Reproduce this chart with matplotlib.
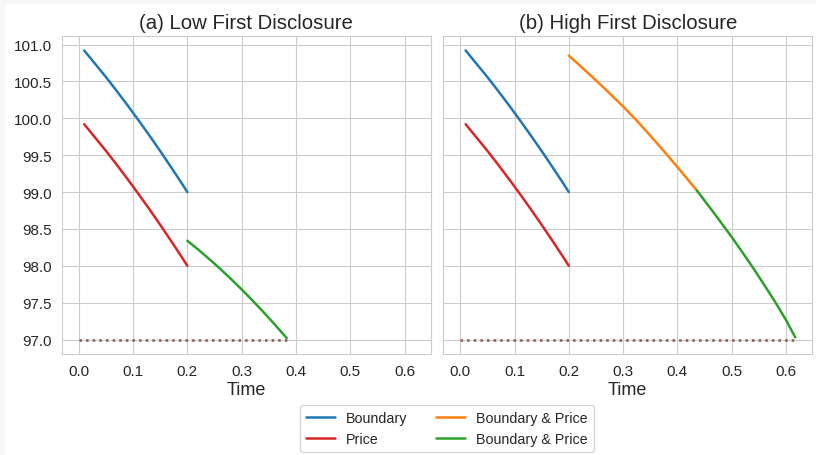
import matplotlib
matplotlib.use("Agg")
import matplotlib.pyplot as plt
import seaborn as sns
from matplotlib.patches import Rectangle

sns.set_style("whitegrid")
plt.rcParams['font.family'] = ['Liberation Sans', 'DejaVu Sans']

# Data
t_first = [0.01, 0.03, 0.05, 0.07, 0.09, 0.11, 0.13, 0.15, 0.17, 0.19, 0.20]
boundary_first = [100.92, 100.74, 100.56, 100.37, 100.175, 99.974, 99.768, 99.556, 99.338, 99.115, 99.00]
price_first = [99.92, 99.74, 99.56, 99.37, 99.175, 98.974, 98.768, 98.556, 98.338, 98.115, 98.00]

t_low_second = [0.20, 0.22, 0.24, 0.26, 0.28, 0.30, 0.32, 0.34, 0.36, 0.383]
low_second = [98.34, 98.22, 98.094, 97.962, 97.824, 97.68, 97.53, 97.374, 97.212, 97.02]

t_high_orange = [0.20, 0.225, 0.25, 0.275, 0.30, 0.325, 0.35, 0.375, 0.40, 0.436]
high_orange = [100.85, 100.685, 100.515, 100.34, 100.16, 99.97, 99.765, 99.555, 99.34, 99.02]
t_high_green = [0.436, 0.47, 0.50, 0.52, 0.54, 0.56, 0.58, 0.60, 0.617]
high_green = [99.02, 98.69, 98.39, 98.18, 97.965, 97.74, 97.51, 97.265, 97.03]

floor_level = 97.0
t_floor_low = [0.0, 0.383]
t_floor_high = [0.0, 0.617]

titles = ["(a) Low First Disclosure", "(b) High First Disclosure"]
yticks = [97.0, 97.5, 98.0, 98.5, 99.0, 99.5, 100.0, 100.5, 101.0]
xticks = [0.0, 0.1, 0.2, 0.3, 0.4, 0.5, 0.6]

fig = plt.figure(figsize=(8.16, 4.56), dpi=100, facecolor='#f7f7f7')
fig.patches.append(Rectangle((5/816, 0), 1 - 5/816, 1 - 5/456, transform=fig.transFigure,
                             facecolor='white', edgecolor='none', zorder=-10))
axes = fig.subplots(1, 2, sharex=True, sharey=True)
fig.subplots_adjust(left=62/816, right=812/816, top=1-37/456, bottom=1-355/456, wspace=0.035)

c_blue, c_red, c_orange, c_green, c_brown = '#1f77b4', '#d62728', '#ff7f0e', '#2ca02c', '#8c564b'
lw = 1.8

ax = axes[0]
ax.plot(t_first, boundary_first, color=c_blue, lw=lw)
ax.plot(t_first, price_first, color=c_red, lw=lw)
ax.plot(t_low_second, low_second, color=c_green, lw=lw)
ax.plot(t_floor_low, [floor_level]*2, color=c_brown, lw=lw, ls=':')

ax = axes[1]
ax.plot(t_first, boundary_first, color=c_blue, lw=lw)
ax.plot(t_first, price_first, color=c_red, lw=lw)
ax.plot(t_high_orange, high_orange, color=c_orange, lw=lw)
ax.plot(t_high_green, high_green, color=c_green, lw=lw)
ax.plot(t_floor_high, [floor_level]*2, color=c_brown, lw=lw, ls=':')

for ax, title in zip(axes, titles):
    ax.set_title(title, fontsize=14.7, pad=6)
    ax.set_xlabel("Time", fontsize=13, labelpad=2)
    ax.set_xticks(xticks)
    ax.set_xticklabels([f"{v:.1f}" for v in xticks])
    ax.tick_params(labelsize=11, pad=4)
axes[0].set_yticks(yticks)
axes[0].set_yticklabels([f"{v:.1f}" for v in yticks])

handles = [
    plt.Line2D([], [], color=c_blue, lw=lw),
    plt.Line2D([], [], color=c_red, lw=lw),
    plt.Line2D([], [], color=c_orange, lw=lw),
    plt.Line2D([], [], color=c_green, lw=lw),
]
labels = ['Boundary', 'Price', 'Boundary & Price', 'Boundary & Price']
fig.legend(handles, labels, ncol=2, loc='upper center', bbox_to_anchor=(447/816, 1 - 399/456),
           fontsize=10.3, frameon=True, columnspacing=2.0, handlelength=2.0)

fig.savefig("out.png", dpi=100, facecolor=fig.get_facecolor())
